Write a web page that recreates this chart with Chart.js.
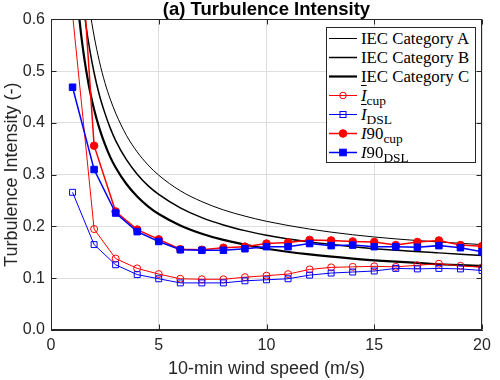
<!DOCTYPE html>
<html>
<head>
<meta charset="utf-8">
<script src="https://cdn.jsdelivr.net/npm/chart.js@4.4.1/dist/chart.umd.min.js"></script>
<style>
html,body{margin:0;padding:0;background:#fff;}
#wrap{position:relative;width:500px;height:380px;}
#legend{position:absolute;left:326px;top:27px;width:150px;height:136px;box-sizing:border-box;border:1px solid #262626;background:#fff;padding:1px 0 0 1px;font-family:"Liberation Serif","Times New Roman",serif;font-size:16.8px;color:#000;}
.row{height:19px;display:flex;align-items:center;white-space:nowrap;line-height:19px;}
.row svg{flex:none;display:block;}
.row sub{font-size:0.8em;vertical-align:-0.3em;line-height:0;}
.ov{text-decoration:overline;}
</style>
</head>
<body>
<div id="wrap"><canvas id="c" width="500" height="380"></canvas><div id="legend"></div></div>
<script>
// ---- data ----
const speeds  = [1,2,3,4,5,6,7,8,9,10,11,12,13,14,15,16,17,18,19,20];
const meanCup = [0.61,0.195,0.138,0.119,0.108,0.099,0.098,0.098,0.102,0.105,0.108,0.117,0.121,0.122,0.123,0.122,0.125,0.128,0.124,0.121];
const meanDsl = [0.266,0.165,0.126,0.107,0.099,0.091,0.091,0.091,0.095,0.097,0.099,0.106,0.110,0.112,0.114,0.119,0.118,0.119,0.118,0.115];
const p90Cup  = [0.98,0.356,0.229,0.194,0.175,0.156,0.155,0.159,0.161,0.167,0.169,0.174,0.173,0.171,0.170,0.164,0.170,0.173,0.164,0.162];
const p90Dsl  = [0.469,0.310,0.226,0.190,0.171,0.155,0.154,0.154,0.157,0.161,0.161,0.167,0.163,0.164,0.161,0.161,0.160,0.163,0.159,0.151];

const iecSpeeds = [1.2,1.3,1.4,1.5,1.6,1.8,2,2.25,2.5,2.75,3,3.5,4,4.5,5,6,7,8,9,10,12,14,16,18,20];
const iecA = [0.867,0.809,0.760,0.717,0.680,0.618,0.568,0.518,0.478,0.446,0.419,0.376,0.344,0.319,0.299,0.269,0.248,0.232,0.220,0.210,0.195,0.184,0.176,0.170,0.165];
const iecB = [0.758,0.708,0.665,0.628,0.595,0.541,0.497,0.453,0.419,0.390,0.366,0.329,0.301,0.279,0.262,0.236,0.217,0.203,0.192,0.183,0.170,0.161,0.154,0.149,0.144];
const iecC = [0.650,0.607,0.570,0.538,0.510,0.463,0.426,0.389,0.359,0.334,0.314,0.282,0.258,0.239,0.224,0.202,0.186,0.174,0.165,0.157,0.146,0.138,0.132,0.127,0.124];

const xTicks = [0,5,10,15,20];
const yTicks = [0,0.1,0.2,0.3,0.4,0.5,0.6];

const seriesLabels = ['IEC Category A','IEC Category B','IEC Category C','Ī cup','Ī DSL','I90 cup','I90 DSL'];
const legendMarkup = [
  'IEC Category A','IEC Category B','IEC Category C',
  '<i class="ov">I</i><sub>cup</sub>',
  '<i class="ov">I</i><sub>DSL</sub>',
  '<i>I</i>90<sub>cup</sub>',
  '<i>I</i>90<sub>DSL</sub>'
];

// ---- chart ----
const RED = '#ff0000', BLUE = '#0000ff', BLACK = '#000000';
function pts(xs, ys){ return xs.map((x,i)=>({x:x, y:ys[i]})); }

const datasets = [
  {label:seriesLabels[0], data:pts(iecSpeeds,iecA), borderColor:BLACK, borderWidth:1,   pointRadius:0, cubicInterpolationMode:'monotone', order:7, mk:null, fill:false},
  {label:seriesLabels[1], data:pts(iecSpeeds,iecB), borderColor:BLACK, borderWidth:1.5, pointRadius:0, cubicInterpolationMode:'monotone', order:6, mk:null, fill:false},
  {label:seriesLabels[2], data:pts(iecSpeeds,iecC), borderColor:BLACK, borderWidth:2.2, pointRadius:0, cubicInterpolationMode:'monotone', order:5, mk:null, fill:false},
  {label:seriesLabels[3], data:pts(speeds,meanCup), borderColor:RED, borderWidth:1, pointStyle:'circle', pointRadius:3.5, pointBorderWidth:1, pointBorderColor:RED, pointBackgroundColor:'rgba(0,0,0,0)', order:4, mk:'oc', fill:false},
  {label:seriesLabels[4], data:pts(speeds,meanDsl), borderColor:BLUE, borderWidth:1, pointStyle:'rect', pointRadius:4.2, pointBorderWidth:1, pointBorderColor:BLUE, pointBackgroundColor:'rgba(0,0,0,0)', order:3, mk:'os', fill:false},
  {label:seriesLabels[5], data:pts(speeds,p90Cup), borderColor:RED, borderWidth:1.5, pointStyle:'circle', pointRadius:3.8, pointBorderWidth:1, pointBorderColor:RED, pointBackgroundColor:RED, order:2, mk:'fc', fill:false},
  {label:seriesLabels[6], data:pts(speeds,p90Dsl), borderColor:BLUE, borderWidth:1.5, pointStyle:'rect', pointRadius:4.6, pointBorderWidth:1, pointBorderColor:BLUE, pointBackgroundColor:BLUE, order:1, mk:'fs', fill:false}
];
datasets.forEach(d => { d.clip = 0; d.tension = 0; });

const frame = {
  id:'frame',
  afterDraw(chart){
    const {ctx, chartArea:a, scales:{x, y}} = chart;
    const L = Math.round(a.left)+0.5, R = Math.round(a.right)-0.5, T = Math.round(a.top)+0.5, B = Math.round(a.bottom)-0.5;
    ctx.save();
    ctx.strokeStyle = '#262626';
    ctx.lineWidth = 1;
    ctx.beginPath();
    x.ticks.forEach(t => {
      const p = Math.round(x.getPixelForValue(t.value)) + 0.5;
      ctx.moveTo(p, B); ctx.lineTo(p, B-5);
      ctx.moveTo(p, T); ctx.lineTo(p, T+5);
    });
    y.ticks.forEach(t => {
      const p = Math.round(y.getPixelForValue(t.value)) + 0.5;
      ctx.moveTo(L, p); ctx.lineTo(L+5, p);
      ctx.moveTo(R, p); ctx.lineTo(R-5, p);
    });
    ctx.stroke();
    ctx.strokeRect(L, T, R-L, B-T);
    ctx.restore();
  }
};

Chart.defaults.font.family = '"Liberation Sans", Arial, Helvetica, sans-serif';
Chart.defaults.color = '#262626';

const chart = new Chart(document.getElementById('c'), {
  type:'line',
  data:{datasets:datasets},
  options:{
    responsive:false,
    animation:false,
    events:[],
    layout:{padding:{left:0, right:18, top:0, bottom:0}},
    plugins:{
      legend:{display:false},
      tooltip:{enabled:false},
      title:{display:true, text:'(a) Turbulence Intensity', fullSize:false, color:'#000',
             font:{size:18.5, weight:'bold', lineHeight:1.05}, padding:{top:0, bottom:0}}
    },
    scales:{
      x:{type:'linear', min:0, max:20,
         afterBuildTicks(s){ s.ticks = xTicks.map(v=>({value:v})); },
         afterFit(s){ s.height = 50; },
         ticks:{font:{size:16}, padding:6, color:'#262626', callback:v=>String(v)},
         grid:{color:'#dedede', lineWidth:1, drawTicks:false},
         border:{display:true, color:'#262626'},
         title:{display:true, text:'10-min wind speed (m/s)', font:{size:18}, color:'#262626', padding:{top:0,bottom:0}}
      },
      y:{type:'linear', min:0, max:0.6,
         afterBuildTicks(s){ s.ticks = yTicks.map(v=>({value:v})); },
         afterFit(s){ s.width = 51; },
         ticks:{font:{size:16}, padding:6, color:'#262626', callback:v=>Number(v).toFixed(1)},
         grid:{color:'#dedede', lineWidth:1, drawTicks:false},
         border:{display:true, color:'#262626'},
         title:{display:true, text:'Turbulence Intensity (-)', font:{size:18}, color:'#262626', padding:{top:1,bottom:0}}
      }
    }
  },
  plugins:[frame]
});

// ---- HTML legend built from the chart's datasets ----
const legend = document.getElementById('legend');
chart.data.datasets.forEach((d, i) => {
  const row = document.createElement('div');
  row.className = 'row';
  let marker = '';
  const c = d.borderColor;
  if (d.mk === 'oc') marker = `<circle cx="15" cy="9.5" r="3.3" fill="none" stroke="${c}" stroke-width="1"/>`;
  if (d.mk === 'fc') marker = `<circle cx="15" cy="9.5" r="3.8" fill="${c}" stroke="${c}" stroke-width="1"/>`;
  if (d.mk === 'os') marker = `<rect x="12" y="6.5" width="6" height="6" fill="none" stroke="${c}" stroke-width="1"/>`;
  if (d.mk === 'fs') marker = `<rect x="11.7" y="6.2" width="6.6" height="6.6" fill="${c}" stroke="${c}" stroke-width="1"/>`;
  row.innerHTML = `<svg width="33" height="19" viewBox="0 0 33 19"><line x1="1" y1="9.5" x2="29" y2="9.5" stroke="${c}" stroke-width="${d.borderWidth}"/>${marker}</svg><span>${legendMarkup[i]}</span>`;
  legend.appendChild(row);
});
</script>
</body>
</html>
